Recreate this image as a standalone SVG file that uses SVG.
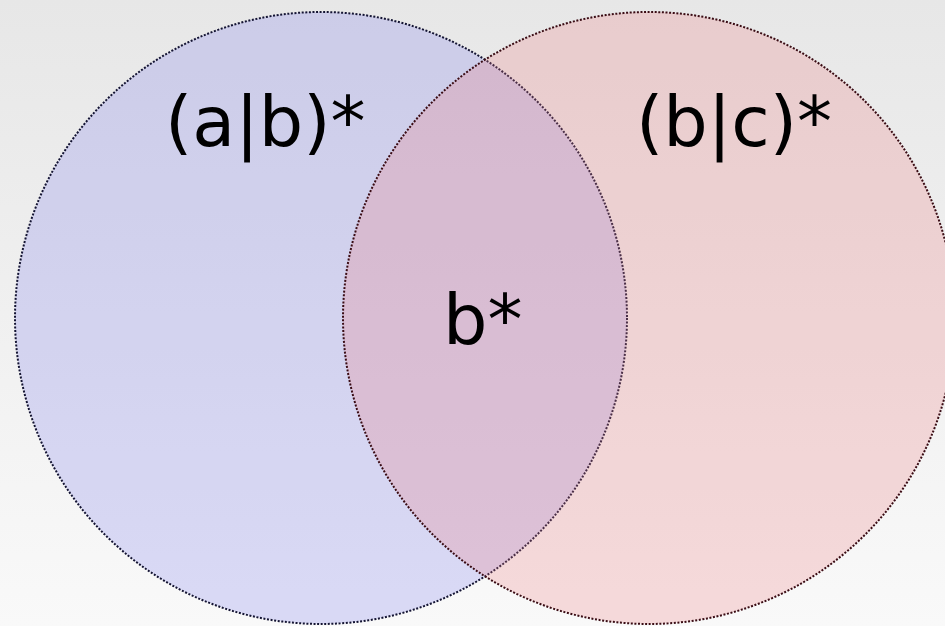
<svg xmlns="http://www.w3.org/2000/svg" width="945" height="626" viewBox="0 0 945 626">
  <defs>
    <linearGradient id="bg" x1="0" y1="0" x2="0" y2="1">
      <stop offset="0" stop-color="#e7e7e7"/>
      <stop offset="1" stop-color="#f9f9f9"/>
    </linearGradient>
    <style>
      .set { stroke-width: 2; stroke-dasharray: 2 1.6; }
      .lbl { font-family: "DejaVu Sans", sans-serif; font-size: 70px; fill: #000; }
    </style>
  </defs>
  <rect x="0" y="0" width="945" height="626" fill="url(#bg)"/>
  <g id="setAB">
    <circle class="set" cx="321" cy="318" r="306" fill="rgb(124,124,236)" fill-opacity="0.25" stroke="#141433"/>
    <text class="lbl" x="165" y="146">(a|b)*</text>
  </g>
  <g id="setBC">
    <circle class="set" cx="649" cy="318" r="306" fill="rgb(236,124,128)" fill-opacity="0.25" stroke="#3a0c14"/>
    <text class="lbl" x="636" y="146">(b|c)*</text>
  </g>
  <g id="intersection">
    <text class="lbl" x="443" y="344">b*</text>
  </g>
</svg>
